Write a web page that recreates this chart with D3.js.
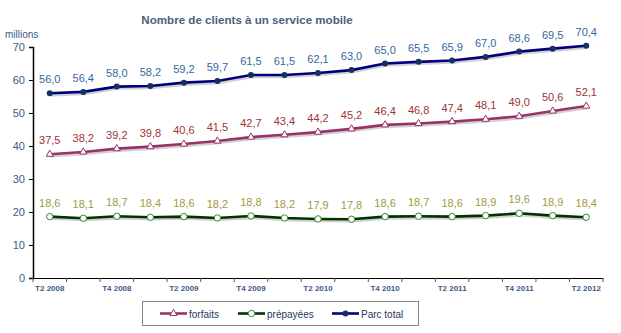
<!DOCTYPE html>
<html><head><meta charset="utf-8">
<script src="https://cdn.jsdelivr.net/npm/d3@7"></script>
<style>body{margin:0;background:#fff;font-family:"Liberation Sans",Arial,sans-serif}</style>
</head><body><svg id="c" width="621" height="333"></svg>
<script>
const categories=["T2 2008","T3 2008","T4 2008","T1 2009","T2 2009","T3 2009","T4 2009","T1 2010","T2 2010","T3 2010","T4 2010","T1 2011","T2 2011","T3 2011","T4 2011","T1 2012","T2 2012"];
const tickLabels=["T2 2008","","T4 2008","","T2 2009","","T4 2009","","T2 2010","","T4 2010","","T2 2011","","T4 2011","","T2 2012"];
const parcTotal=[56.0,56.4,58.0,58.2,59.2,59.7,61.5,61.5,62.1,63.0,65.0,65.5,65.9,67.0,68.6,69.5,70.4];
const forfaits=[37.5,38.2,39.2,39.8,40.6,41.5,42.7,43.4,44.2,45.2,46.4,46.8,47.4,48.1,49.0,50.6,52.1];
const prepayees=[18.6,18.1,18.7,18.4,18.6,18.2,18.8,18.2,17.9,17.8,18.6,18.7,18.6,18.9,19.6,18.9,18.4];
const yTicks=[0,10,20,30,40,50,60,70];

const svg=d3.select("#c");
const x=d3.scaleBand().domain(categories).range([33,603]);
const y=d3.scaleLinear().domain([0,70]).range([278,47]);
const cx=d=>x(d)+x.bandwidth()/2;

svg.append("text").attr("x",247).attr("y",24).attr("text-anchor","middle")
  .attr("font-size",11.6).attr("font-weight","bold").attr("fill","#4a5f82")
  .text("Nombre de clients à un service mobile");
svg.append("text").attr("x",5).attr("y",38).attr("font-size",10).attr("fill","#3c5a88").text("millions");

// y axis
const ya=svg.append("g").attr("transform","translate(33,0)")
  .call(d3.axisLeft(y).tickValues(yTicks).tickSize(4).tickPadding(4));
ya.select(".domain").attr("stroke","#000").attr("stroke-width",1.5);
ya.selectAll(".tick line").attr("stroke","#000");
ya.selectAll("text").attr("font-size",11).attr("fill","#3c5a88").attr("font-family","Liberation Sans, Arial");

// x axis
const xa=svg.append("g").attr("transform","translate(0,278)")
  .call(d3.axisBottom(x).tickSize(0).tickFormat((d,i)=>tickLabels[i]).tickPadding(7));
xa.select(".domain").attr("stroke","#000").attr("stroke-width",1);
xa.selectAll("text").attr("font-size",8).attr("font-weight","bold").attr("fill","#3c5a88").attr("font-family","Liberation Sans, Arial");
const bounds=categories.map(d=>x(d)).concat([x.range()[1]]);
svg.append("g").selectAll("line").data(bounds).join("line")
  .attr("x1",d=>d).attr("x2",d=>d).attr("y1",278).attr("y2",282).attr("stroke","#555");

const series=[
 {name:"forfaits",vals:forfaits,line:"#993366",mark:"#993366",lab:"#a03333",sym:"tri"},
 {name:"prépayées",vals:prepayees,line:"#003300",mark:"#2e8b2e",lab:"#a09a40",sym:"circ"},
 {name:"Parc total",vals:parcTotal,line:"#000080",mark:"#13315c",lab:"#3366a0",sym:"dot"}
];
const line=d3.line().x((d,i)=>cx(categories[i])).y(d=>y(d));
function marker(g,s,px,py){
  if(s.sym==="tri"){
    g.append("path").attr("d",d3.symbol(d3.symbolTriangle,22)()).attr("transform",`translate(${px},${py})`)
     .attr("fill","#fff").attr("stroke",s.mark).attr("stroke-width",1);
  } else if(s.sym==="circ"){
    g.append("circle").attr("cx",px).attr("cy",py).attr("r",3.2).attr("fill","#fff").attr("stroke",s.mark).attr("stroke-width",1);
  } else {
    g.append("circle").attr("cx",px).attr("cy",py).attr("r",3).attr("fill",s.mark);
  }
}
series.forEach(s=>{
  svg.append("path").datum(s.vals).attr("d",line).attr("fill","none").attr("stroke","#d0d0d0").attr("stroke-width",2.5).attr("transform","translate(1,2)");
  svg.append("path").datum(s.vals).attr("d",line).attr("fill","none").attr("stroke",s.line).attr("stroke-width",2.6);
  const g=svg.append("g");
  s.vals.forEach((v,i)=>marker(g,s,cx(categories[i]),y(v)));
  svg.append("g").selectAll("text").data(s.vals).join("text")
    .attr("x",(d,i)=>cx(categories[i])).attr("y",d=>y(d)-10).attr("text-anchor","middle")
    .attr("font-size",11).attr("fill",s.lab).text(d=>d.toFixed(1).replace(".",","));
});

// legend
const lg=svg.append("g");
lg.append("rect").attr("x",142.5).attr("y",301.5).attr("width",276).attr("height",24).attr("fill","#fff").attr("stroke","#888");
const lx=[160,238,332];
series.forEach((s,i)=>{
  lg.append("line").attr("x1",lx[i]).attr("x2",lx[i]+27).attr("y1",313.5).attr("y2",313.5).attr("stroke",s.line).attr("stroke-width",2.6);
  marker(lg,s,lx[i]+13.5,313.5);
  lg.append("text").attr("x",lx[i]+29).attr("y",317.5).attr("font-size",10).attr("fill","#1f3864").text(s.name);
});
</script></body></html>
